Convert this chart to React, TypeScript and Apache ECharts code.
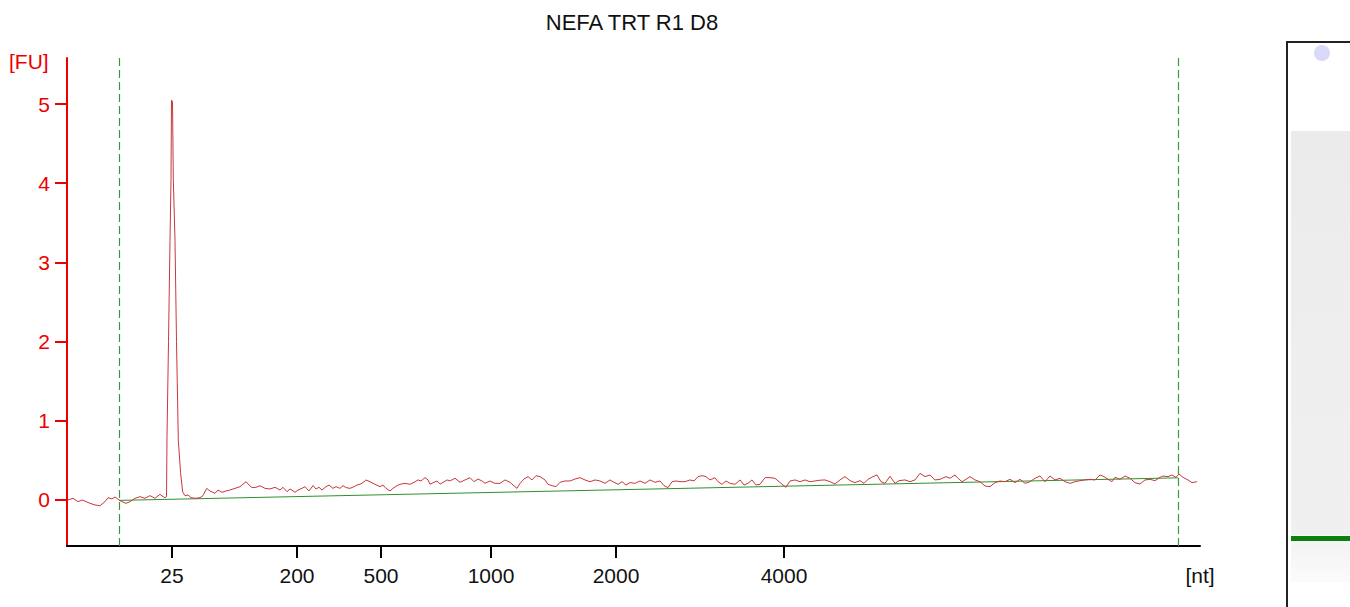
import React, { useEffect, useRef } from "react";
import * as echarts from "echarts";

const chartTitle = "NEFA TRT R1 D8";
const yUnit = "[FU]";
const xUnit = "[nt]";
const ladderSizes = ["25", "200", "500", "1000", "2000", "4000"];
const ladderScan = [172, 297, 381, 491, 616, 784];
const yTicks = [0, 1, 2, 3, 4, 5];
const markerScan = [119, 1178];
const baselineScan = [119, 1178];
const baselineFU = [-0.005, 0.28];

const scanIdx = [
  68, 73, 78, 82, 86, 90, 95, 100, 105, 108, 112, 115, 119, 122, 126, 130, 135, 140, 145, 150, 155, 160, 163, 165,
  166.5, 167, 168.5, 170, 171, 171.5, 172.5, 173.3, 175, 176.5, 178.3, 180.5, 182.7,
  185, 188, 191, 195, 200, 203, 206.7, 210, 215, 218, 222, 226, 230, 235, 240, 243, 246, 249, 252, 256,
  260, 265, 270, 275, 280, 283, 287, 290, 295, 298, 302, 305, 309, 313, 316, 319, 322, 326, 329, 333, 336, 340,
  343, 346, 350, 354, 357, 360, 363, 366, 370, 375, 380, 383, 386, 390, 393, 397, 400, 405, 410, 414, 418, 421,
  425, 428, 430, 434, 437, 440, 444, 447,
  450, 455, 460, 465, 470, 474, 478, 482, 485, 490, 495, 500, 505, 510, 513, 517, 520, 524, 528, 532, 536, 540,
  545, 548, 552, 556, 560, 565, 570, 575, 580, 585, 590, 595, 600, 605, 610, 613, 618, 622, 626, 630,
  635, 640, 645, 650, 655, 660, 664, 668, 672, 676, 680, 685, 690, 694, 698, 702, 706, 710, 715, 718, 722, 726,
  730, 735, 740, 744, 748, 752, 756, 760, 765, 770, 775, 779, 783, 786, 790, 795, 800, 805, 810, 815, 820, 825,
  830, 835, 840, 845, 850, 855, 860, 864, 868, 873, 877, 881, 885, 890, 895, 899, 905, 910, 915, 920, 925, 930,
  935, 940, 946, 950, 955, 958, 962, 966, 970, 975, 980, 985, 990, 995, 1000, 1005, 1010, 1015, 1020, 1025, 1030,
  1035, 1040, 1045, 1050, 1055, 1060, 1065, 1070, 1075, 1080, 1085, 1090, 1095, 1100, 1104, 1108, 1112, 1115,
  1120, 1125, 1130, 1135, 1140, 1145, 1150, 1155, 1160, 1163, 1168, 1172, 1176, 1179, 1183, 1188, 1192, 1197,
];

const fu = [
  0.0, 0.021, -0.021, 0.0, -0.02, -0.042, -0.063, -0.072, -0.021, 0.029, 0.013, 0.038, 0.0, -0.021, -0.042, -0.021,
  0.021, 0.042, 0.021, 0.055, 0.021, 0.072, 0.042, 0.03,
  0.04, 0.8, 2.0, 3.28, 4.05, 5.05, 5.03, 4.05, 3.28, 2.0, 0.76, 0.35, 0.1,
  0.055, 0.063, 0.029, 0.021, 0.029, 0.055, 0.147, 0.114, 0.084, 0.126, 0.097, 0.114, 0.126, 0.147, 0.168, 0.2,
  0.231, 0.19, 0.156, 0.16,
  0.18, 0.147, 0.139, 0.16, 0.126, 0.16, 0.105, 0.139, 0.097, 0.126, 0.147, 0.168, 0.114, 0.181, 0.139, 0.16,
  0.126, 0.168, 0.189, 0.147, 0.168, 0.147,
  0.181, 0.156, 0.147, 0.168, 0.189, 0.198, 0.22, 0.253, 0.231, 0.198, 0.168, 0.189, 0.147, 0.114, 0.147, 0.181,
  0.198, 0.21, 0.198, 0.223, 0.253, 0.24,
  0.282, 0.253, 0.198, 0.223, 0.24, 0.2, 0.23, 0.253,
  0.24, 0.274, 0.223, 0.253, 0.282, 0.231, 0.265, 0.24, 0.21, 0.24, 0.21, 0.21, 0.253, 0.223, 0.189, 0.147, 0.21,
  0.265, 0.295, 0.253, 0.307, 0.295,
  0.253, 0.198, 0.181, 0.168, 0.223, 0.24, 0.24, 0.265, 0.282, 0.253, 0.231, 0.253, 0.24, 0.21, 0.253, 0.231,
  0.198, 0.231, 0.189, 0.22,
  0.21, 0.24, 0.21, 0.253, 0.223, 0.24, 0.181, 0.156, 0.231, 0.24, 0.231, 0.231, 0.253, 0.24, 0.295, 0.307, 0.295,
  0.253, 0.282, 0.231, 0.198, 0.24,
  0.21, 0.198, 0.253, 0.189, 0.21, 0.253, 0.189, 0.198, 0.282, 0.282, 0.274, 0.231, 0.189, 0.16, 0.24, 0.253,
  0.231, 0.253, 0.231, 0.24, 0.25, 0.253,
  0.231, 0.202, 0.253, 0.295, 0.244, 0.219, 0.244, 0.21, 0.261, 0.295, 0.316, 0.231, 0.21, 0.3, 0.21, 0.244,
  0.253, 0.231, 0.253, 0.337, 0.295, 0.316,
  0.253, 0.261, 0.295, 0.274, 0.316, 0.274, 0.231, 0.261, 0.295, 0.253, 0.231, 0.177, 0.168, 0.219, 0.24, 0.231,
  0.261, 0.219, 0.261, 0.21, 0.231,
  0.274, 0.303, 0.231, 0.303, 0.253, 0.274, 0.231, 0.21, 0.231, 0.244, 0.253, 0.261, 0.253, 0.316, 0.295, 0.261,
  0.231, 0.286,
  0.261, 0.303, 0.274, 0.219, 0.202, 0.253, 0.261, 0.244, 0.286, 0.303, 0.295, 0.316, 0.286, 0.328, 0.286, 0.253,
  0.219, 0.231,
];

const FONT = "Liberation Sans";
const RED = "#ee0000";
const MARKER_GREEN = "#3a9a3a";

export default function App() {
  const ref = useRef<HTMLDivElement>(null);
  useEffect(() => {
    if (!ref.current) return;
    const chart = echarts.init(ref.current, null, { renderer: "svg" });
    const traceData = scanIdx.map((x, i) => [x, fu[i]]);
    const baseData = baselineScan.map((x, i) => [x, baselineFU[i]]);
    const labelValues = [...ladderScan, 1200];
    chart.setOption({
      animation: false,
      backgroundColor: "#ffffff",
      grid: { left: 67, right: 150, top: 58, bottom: 61, containLabel: false },
      xAxis: {
        type: "value",
        min: 67,
        max: 1200,
        axisLine: { show: true, onZero: false, lineStyle: { color: "#000", width: 2 } },
        axisTick: { show: true, customValues: ladderScan, length: 12, lineStyle: { color: "#000", width: 2 } },
        axisLabel: {
          customValues: labelValues,
          showMinLabel: true,
          showMaxLabel: true,
          margin: 19,
          fontSize: 21,
          fontFamily: FONT,
          color: "#111",
          formatter: (v: number) => {
            const i = ladderScan.indexOf(v);
            if (i >= 0) return ladderSizes[i];
            return v === 1200 ? xUnit : "";
          },
        },
        splitLine: { show: false },
      },
      yAxis: {
        type: "value",
        min: -0.581,
        max: 5.581,
        axisLine: { show: true, onZero: false, lineStyle: { color: RED, width: 2 } },
        axisTick: { show: true, customValues: yTicks, length: 12, lineStyle: { color: RED, width: 2 } },
        axisLabel: {
          customValues: yTicks,
          margin: 17,
          fontSize: 21,
          fontFamily: FONT,
          color: RED,
        },
        splitLine: { show: false },
      },
      series: [
        {
          type: "line",
          data: baseData,
          showSymbol: false,
          silent: true,
          lineStyle: { color: "#2f8f2f", width: 1 },
          z: 2,
        },
        {
          type: "line",
          data: traceData,
          showSymbol: false,
          silent: true,
          lineStyle: { color: "#c8383c", width: 1 },
          z: 3,
        },
        {
          type: "line",
          data: [],
          silent: true,
          z: 1,
          markLine: {
            silent: true,
            symbol: "none",
            label: { show: false },
            lineStyle: { color: MARKER_GREEN, type: [8, 4], width: 1.2, opacity: 1 },
            data: markerScan.map((x) => ({
              xAxis: x,
              lineStyle: { color: MARKER_GREEN, type: [8, 4], width: 1.2 },
            })),
          },
        },
      ],
      graphic: [
        {
          type: "text",
          x: 632,
          y: 22,
          style: {
            text: chartTitle,
            fontSize: 22,
            fontFamily: FONT,
            fill: "#111",
            align: "center",
            verticalAlign: "middle",
          },
        },
        {
          type: "text",
          x: 9,
          y: 61,
          style: {
            text: yUnit,
            fontSize: 21,
            fontFamily: FONT,
            fill: RED,
            align: "left",
            verticalAlign: "middle",
          },
        },
        {
          type: "rect",
          shape: { x: 1287, y: 42, width: 100, height: 600 },
          style: { fill: "#ffffff", stroke: "#222", lineWidth: 2 },
        },
        {
          type: "rect",
          shape: { x: 1291, y: 131, width: 70, height: 404 },
          style: {
            fill: new echarts.graphic.LinearGradient(0, 0, 0, 1, [
              { offset: 0, color: "#ebebeb" },
              { offset: 0.5, color: "#eeeeee" },
              { offset: 1, color: "#f0f0f0" },
            ]),
          },
        },
        {
          type: "rect",
          shape: { x: 1291, y: 541, width: 70, height: 41 },
          style: {
            fill: new echarts.graphic.LinearGradient(0, 0, 0, 1, [
              { offset: 0, color: "#f3f3f3" },
              { offset: 1, color: "#fbfbfb" },
            ]),
          },
        },
        {
          type: "rect",
          shape: { x: 1291, y: 536, width: 70, height: 5 },
          style: { fill: "#0b800b" },
        },
        {
          type: "circle",
          shape: { cx: 1322, cy: 53, r: 8 },
          style: { fill: "#d9d9fa" },
        },
      ],
    });
    return () => chart.dispose();
  }, []);
  return (
    <div
      ref={ref}
      style={{ position: "absolute", left: 0, top: 0, width: 1350, height: 607 }}
    />
  );
}
